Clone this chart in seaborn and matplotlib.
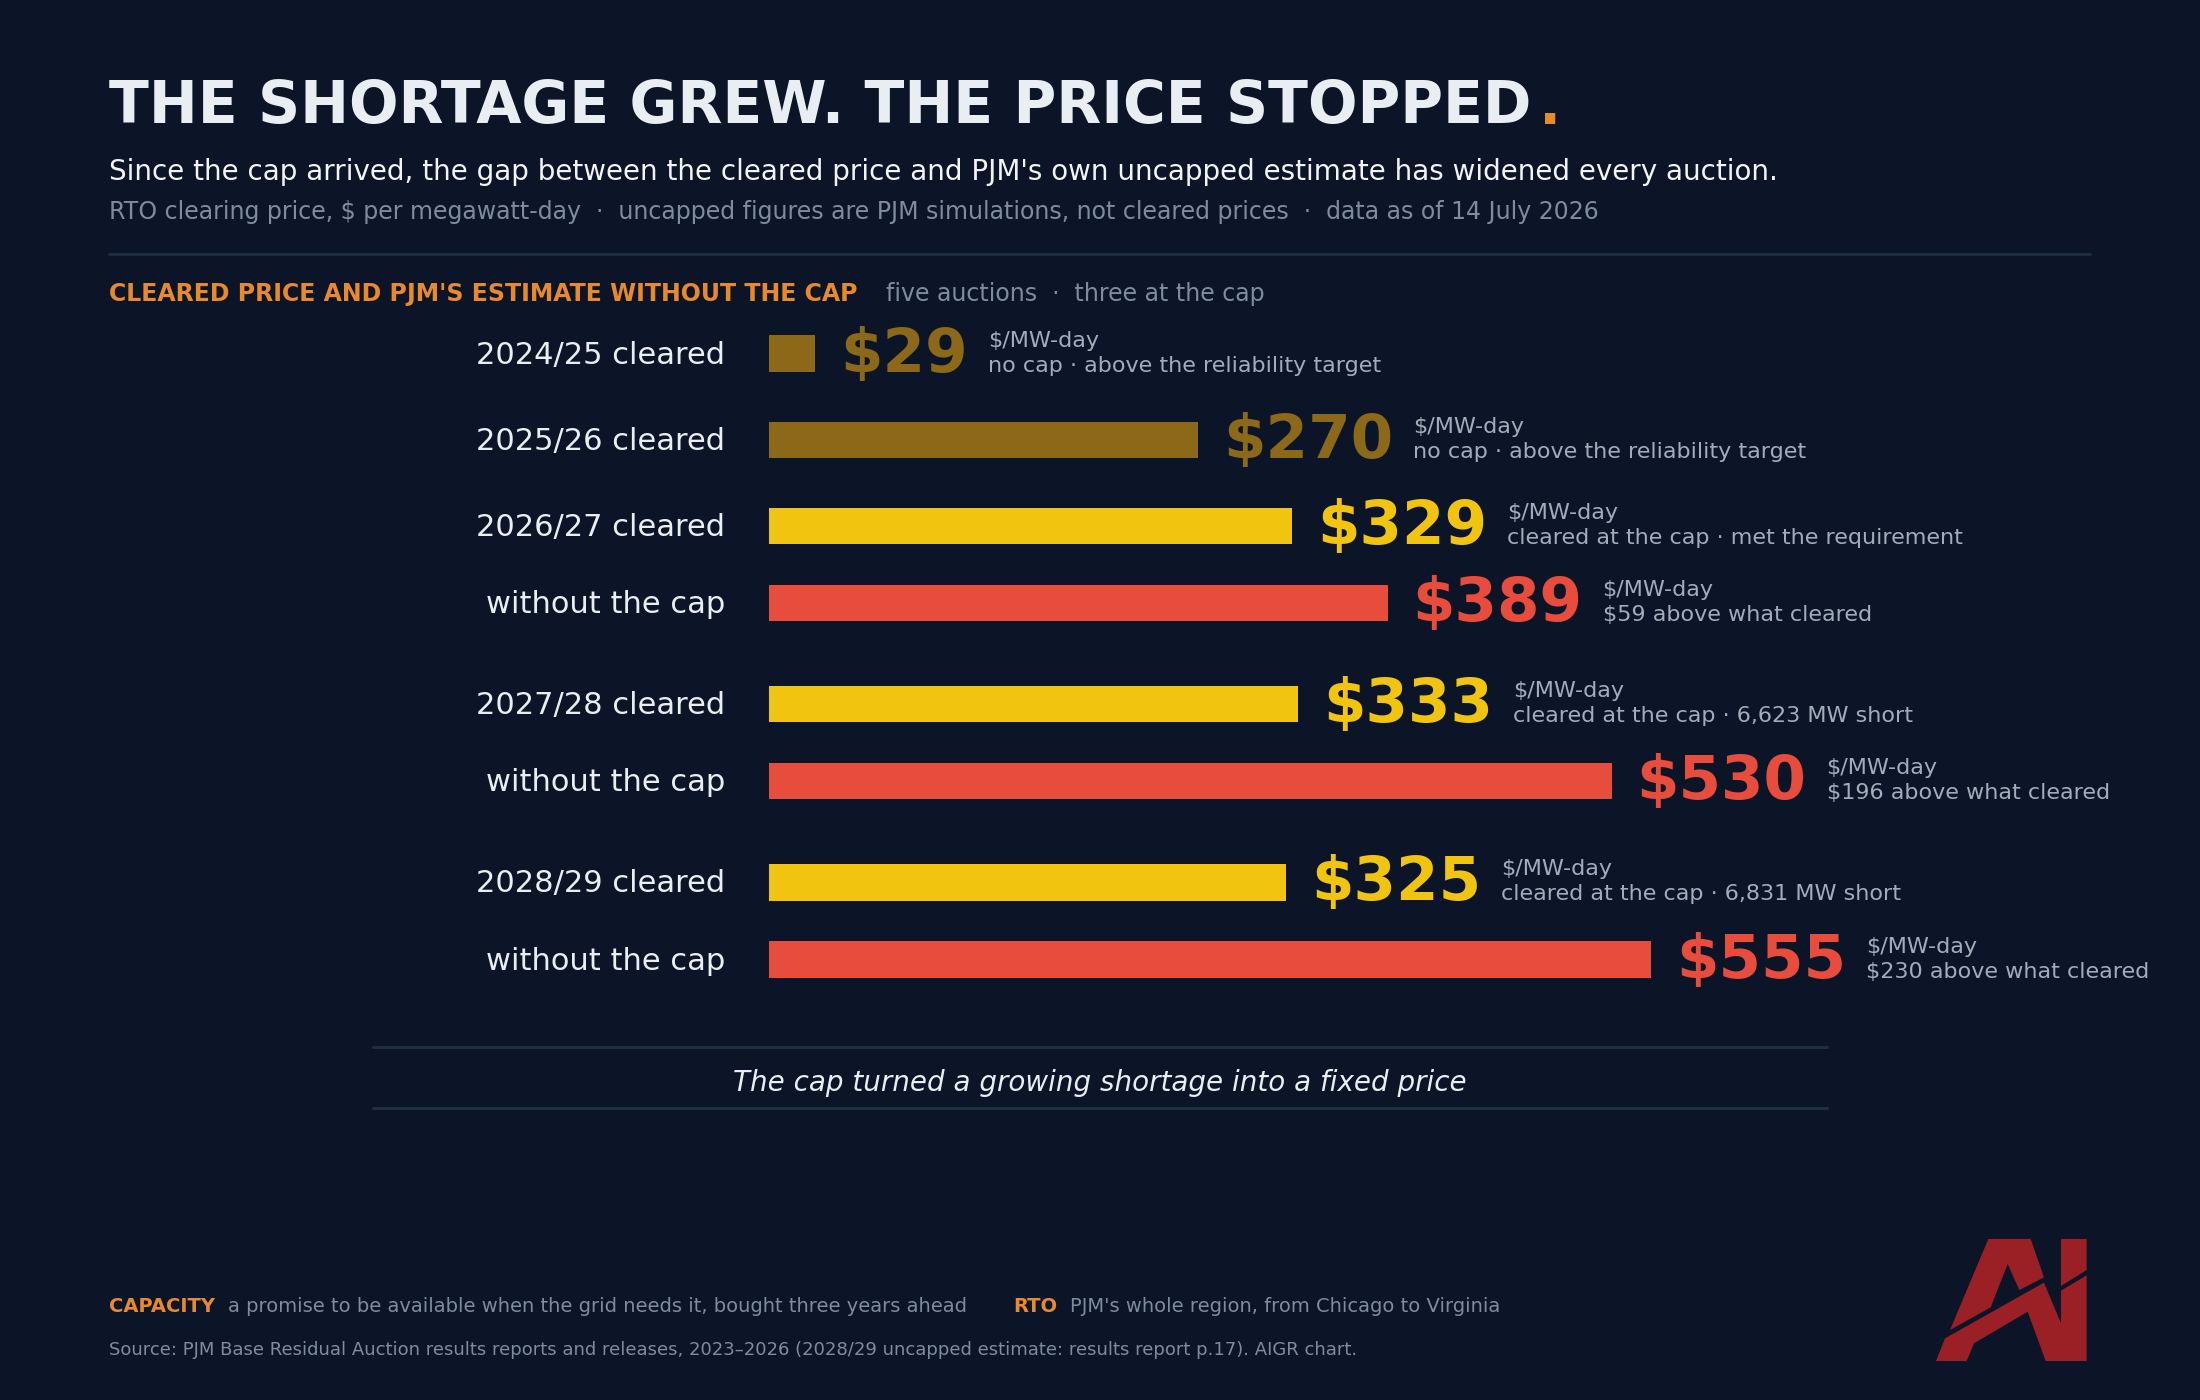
import numpy as np
import pandas as pd
import matplotlib.pyplot as plt
import seaborn as sns
from matplotlib.patches import Polygon
from matplotlib.lines import Line2D

# %%
# Data
seasons = ["2024/25", "2025/26", "2026/27", "2026/27", "2027/28", "2027/28", "2028/29", "2028/29"]
kinds = ["cleared", "cleared", "cleared", "uncapped", "cleared", "uncapped", "cleared", "uncapped"]
prices = [29, 270, 329, 389, 333, 530, 325, 555]
status = ["no cap", "no cap", "at cap", "uncapped", "at cap", "uncapped", "at cap", "uncapped"]
notes = [
    "no cap · above the reliability target",
    "no cap · above the reliability target",
    "cleared at the cap · met the requirement",
    "$59 above what cleared",
    "cleared at the cap · 6,623 MW short",
    "$196 above what cleared",
    "cleared at the cap · 6,831 MW short",
    "$230 above what cleared",
]

# %%
BG = "#0b1527"
ORANGE = "#e8892b"
WHITE = "#e9eef3"
GREY = "#7f8c9c"
NOTE = "#a3adba"
RULE = "#1f2e42"
palette = {"no cap": "#8b6919", "at cap": "#f1c40f", "uncapped": "#e74c3c"}

sns.set_theme(style="dark")
plt.rcParams["font.family"] = ["DejaVu Sans"]

W, H = 2200, 1400
fig = plt.figure(figsize=(W / 100, H / 100), dpi=100, facecolor=BG)


def fx(px):
    return px / W


def fy(py):
    return 1 - py / H


# row positions: one step inside a season, a little more between seasons
pos = [0.0]
for i in range(1, len(seasons)):
    if seasons[i] == seasons[i - 1]:
        step = 1.0
    elif seasons[i - 1] in seasons[:i - 1]:
        step = 1.31
    else:
        step = 1.115
    pos.append(pos[-1] + step)

df = pd.DataFrame({"season": seasons, "kind": kinds, "price": prices,
                   "status": status, "note": notes, "pos": pos})

# axes geometry (pixels)
unit_px = 77.2
px_per_dollar = 1.590
x0_px, top_px = 769, 310
y_top = -(353.6 - top_px) / unit_px
y_bot = 8.4
xmax = 830
ax = fig.add_axes([fx(x0_px), fy(top_px + (y_bot - y_top) * unit_px),
                   xmax * px_per_dollar / W, (y_bot - y_top) * unit_px / H])
ax.set_facecolor(BG)

sns.barplot(data=df, x="price", y="pos", hue="status", palette=palette,
            orient="h", native_scale=True, dodge=False, width=0.47,
            saturation=1, linewidth=0, legend=False, ax=ax)
ax.set_xlim(0, xmax)
ax.set_ylim(y_bot, y_top)
ax.set_axis_off()

for _, r in df.iterrows():
    label = f"{r.season} cleared" if r.kind == "cleared" else "without the cap"
    ax.annotate(label, xy=(0, r.pos), xytext=(-44, -10), textcoords="offset pixels",
                ha="right", va="baseline", fontsize=22, color=WHITE)
    val = ax.annotate(f"${r.price}", xy=(r.price, r.pos), xytext=(25, -18),
                      textcoords="offset pixels", ha="left", va="baseline",
                      fontsize=44, fontweight="bold", color=palette[r.status])
    ax.annotate("$/MW-day", xy=(1, r.pos), xycoords=(val, "data"), xytext=(20, 7),
                textcoords="offset pixels", ha="left", va="baseline",
                fontsize=16, color=NOTE, annotation_clip=False)
    ax.annotate(r.note, xy=(1, r.pos), xycoords=(val, "data"), xytext=(20, -18),
                textcoords="offset pixels", ha="left", va="baseline",
                fontsize=16, color=NOTE, annotation_clip=False)

# %%
# Header
title = fig.text(fx(109), fy(123.5), "THE SHORTAGE GREW. THE PRICE STOPPED",
                 fontsize=42, fontweight="bold", color=WHITE, va="baseline")
plt.annotate(".", xy=(1, fy(123.5)), xycoords=(title, "figure fraction"),
             xytext=(8, 0), textcoords="offset pixels", fontsize=42,
             fontweight="bold", color=ORANGE, va="baseline")
fig.text(fx(109), fy(179.6),
         "Since the cap arrived, the gap between the cleared price and PJM's own "
         "uncapped estimate has widened every auction.",
         fontsize=20, color="#f2f4f7", va="baseline")
fig.text(fx(109), fy(219),
         "RTO clearing price, $ per megawatt-day  ·  uncapped figures are PJM "
         "simulations, not cleared prices  ·  data as of 14 July 2026",
         fontsize=17, color=GREY, va="baseline")
fig.add_artist(Line2D([fx(109), fx(2090)], [fy(254), fy(254)], color=RULE, lw=2))

head = fig.text(fx(109), fy(300.5), "CLEARED PRICE AND PJM'S ESTIMATE WITHOUT THE CAP",
                fontsize=17, fontweight="bold", color=ORANGE, va="baseline")
plt.annotate("five auctions  ·  three at the cap", xy=(1, fy(300.5)),
             xycoords=(head, "figure fraction"), xytext=(28, 0),
             textcoords="offset pixels", fontsize=17, color=GREY, va="baseline")

# %%
# Takeaway box
for yy in (1046.6, 1108.4):
    fig.add_artist(Line2D([fx(373), fx(1827)], [fy(yy), fy(yy)], color=RULE, lw=2.2))
fig.text(0.5, fy(1091), "The cap turned a growing shortage into a fixed price",
         fontsize=20, fontstyle="italic", color=WHITE, ha="center", va="baseline")

# %%
# Footer
cap = fig.text(fx(109), fy(1312), "CAPACITY", fontsize=14, fontweight="bold",
               color=ORANGE, va="baseline")
plt.annotate("a promise to be available when the grid needs it, bought three years ahead",
             xy=(1, fy(1312)), xycoords=(cap, "figure fraction"), xytext=(13, 0),
             textcoords="offset pixels", fontsize=14, color=GREY, va="baseline")
rto = fig.text(fx(1013), fy(1312), "RTO", fontsize=14, fontweight="bold",
               color=ORANGE, va="baseline")
plt.annotate("PJM's whole region, from Chicago to Virginia",
             xy=(1, fy(1312)), xycoords=(rto, "figure fraction"), xytext=(13, 0),
             textcoords="offset pixels", fontsize=14, color=GREY, va="baseline")
fig.text(fx(109), fy(1355),
         "Source: PJM Base Residual Auction results reports and releases, 2023–2026 "
         "(2028/29 uncapped estimate: results report p.17). AIGR chart.",
         fontsize=13, color=GREY, va="baseline")

# %%
# Logo (local coords, 3 units per pixel)
logo_parts = [
    [(150, 390), (265, 117), (392, 117), (432, 232), (358, 270), (323, 192), (272, 322)],
    [(483, 117), (560, 117), (560, 210), (483, 258)],
    [(108, 483), (135, 415), (432, 248), (452, 296), (483, 370), (483, 272),
     (560, 226), (560, 483), (437, 483), (383, 335), (222, 430), (200, 483)],
]
for part in logo_parts:
    pts = np.array(part, dtype=float)
    xs = fx(1900 + pts[:, 0] / 3)
    ys = fy(1200 + pts[:, 1] / 3)
    fig.add_artist(Polygon(np.column_stack([xs, ys]), closed=True,
                           facecolor="#9a2026", edgecolor="none",
                           transform=fig.transFigure))

fig.savefig("out.png", dpi=100, facecolor=BG)
